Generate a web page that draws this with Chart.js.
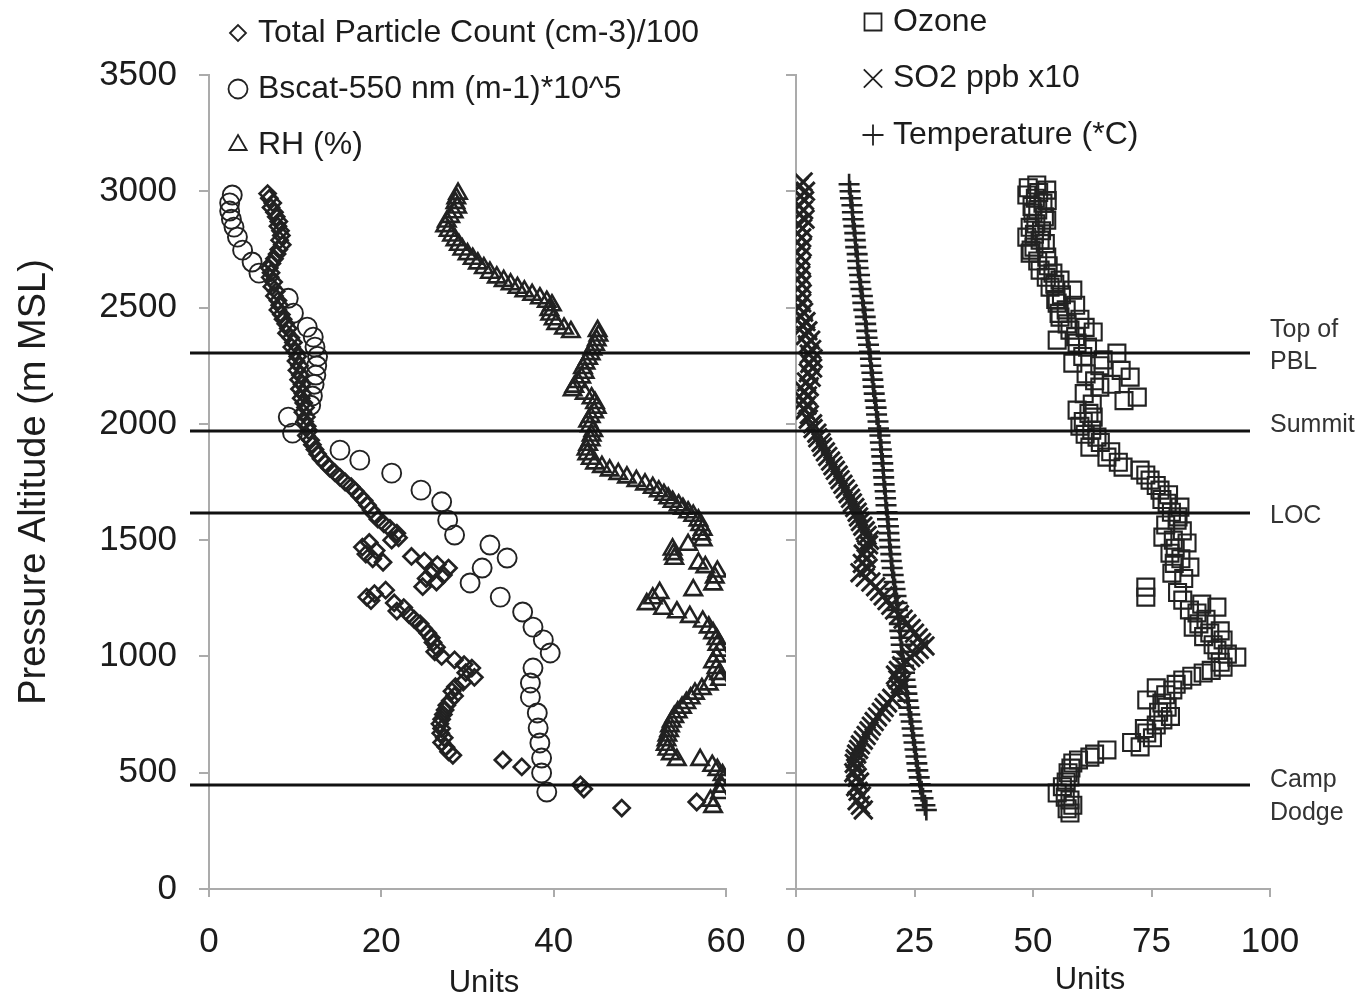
<!DOCTYPE html>
<html>
<head>
<meta charset="utf-8">
<title>Vertical profile</title>
<script src="https://cdn.jsdelivr.net/npm/chart.js@4.4.1/dist/chart.umd.min.js"></script>
<style>
  html, body { margin: 0; padding: 0; background: #fff; }
  #wrap { position: relative; width: 1359px; height: 1005px; overflow: hidden; }
  #leftChart { position: absolute; left: 0; top: 0; }
  #rightChart { position: absolute; left: 760px; top: 0; }
</style>
</head>
<body>
<div id="wrap">
  <canvas id="leftChart" width="760" height="1005"></canvas>
  <canvas id="rightChart" width="599" height="1005"></canvas>
</div>
<script>
/* ---- Tick labels ---- */
var altitudeTicks = [0, 500, 1000, 1500, 2000, 2500, 3000, 3500];
var leftUnitTicks = [0, 20, 40, 60];
var rightUnitTicks = [0, 25, 50, 75, 100];

/* ---- Reference levels (m MSL) ---- */
var levelAltitudes = [2305, 1970, 1615, 448];
var levelNames = [['Top of', 'PBL'], ['Summit'], ['LOC'], ['Camp', 'Dodge']];

/* ---- Series, pairs of [units, altitude] ---- */
var particleCount = [
  [6.8,2990],[7.0,2970],[7.4,2950],[7.2,2930],[7.6,2910],[7.8,2890],[8.1,2870],[8.0,2850],[8.3,2830],[8.4,2810],
  [8.2,2790],[8.5,2770],[8.1,2750],[7.9,2730],[7.6,2710],[7.3,2690],[7.0,2670],[7.2,2650],[7.1,2630],[7.5,2610],
  [7.3,2590],[7.8,2570],[7.6,2550],[8.0,2530],[8.2,2510],[8.0,2490],[8.4,2470],[8.6,2450],[8.9,2430],[9.2,2410],
  [9.0,2390],[9.5,2370],[9.8,2350],[9.6,2330],[10.0,2310],[10.3,2290],[10.1,2270],[10.5,2250],[10.2,2230],[10.6,2210],
  [10.4,2190],[10.8,2170],[10.5,2150],[10.9,2130],[10.7,2110],[11.0,2090],[11.2,2070],[10.9,2050],[11.3,2030],[11.1,2010],
  [11.4,1990],[11.6,1970],[11.3,1950],[11.8,1930],[12.0,1910],[12.3,1890],[12.6,1870],[13.0,1850],[13.5,1830],[14.0,1810],
  [14.6,1790],[15.2,1770],[15.8,1750],[16.5,1730],[17.0,1710],[17.5,1690],[18.0,1670],[18.4,1650],[18.8,1630],[19.2,1610],
  [19.6,1590],[20.3,1570],[21.0,1550],[21.8,1530],[22.0,1510],[21.2,1500],[18.6,1490],[17.8,1470],[19.4,1455],[18.2,1440],
  [19.0,1420],[20.2,1405],[23.5,1430],[25.0,1410],[26.5,1395],[27.8,1380],[26.0,1365],[27.2,1350],[25.2,1335],[26.4,1320],
  [24.8,1300],[20.5,1285],[19.2,1270],[18.3,1255],[18.8,1240],[21.5,1230],[22.6,1210],[21.8,1195],[23.2,1180],[23.8,1160],
  [24.5,1140],[24.9,1120],[25.4,1100],[25.8,1080],[26.0,1060],[26.4,1040],[26.2,1020],[27.0,1000],[28.5,985],[29.6,965],
  [30.5,950],[29.8,930],[30.8,910],[29.5,890],[28.6,870],[28.2,850],[28.5,830],[28.0,810],[27.6,790],[27.4,770],
  [27.2,750],[27.0,730],[26.8,710],[27.0,690],[26.9,670],[27.3,650],[27.0,630],[27.5,610],[27.8,590],[28.3,575],
  [34.1,555],[36.3,525],[43.1,448],[43.5,430],[56.6,374],[47.9,348]
];

var bscat = [
  [2.7,2984],[2.4,2950],[2.4,2915],[2.6,2880],[2.9,2846],[3.3,2803],[3.9,2747],[5.0,2696],[5.8,2648],[9.2,2540],
  [9.8,2476],[11.4,2416],[12.1,2373],[12.3,2330],[12.6,2290],[12.5,2250],[12.4,2210],[12.2,2170],[12.0,2120],[11.8,2080],
  [9.2,2029],[9.7,1960],[15.2,1887],[17.5,1844],[21.2,1788],[24.6,1715],[27.0,1665],[27.7,1586],[28.5,1522],[32.6,1479],
  [34.6,1423],[31.7,1380],[30.3,1316],[33.8,1255],[36.4,1191],[37.6,1126],[38.8,1071],[39.6,1015],[37.6,950],[37.3,886],
  [37.3,825],[38.1,757],[38.2,692],[38.4,628],[38.6,563],[38.6,499],[39.2,417]
];

var relHumidity = [
  [28.9,2990],[28.7,2970],[28.6,2950],[28.8,2930],[28.4,2910],[28.0,2890],[27.6,2870],[27.4,2850],[27.8,2830],[28.2,2810],
  [28.6,2790],[29.0,2770],[29.4,2750],[30.0,2730],[30.6,2710],[31.2,2690],[31.9,2670],[32.6,2650],[33.4,2630],[34.2,2615],
  [35.0,2600],[35.8,2585],[36.6,2570],[37.5,2555],[38.4,2540],[39.2,2525],[39.8,2510],[39.5,2490],[39.6,2470],[40.0,2450],
  [40.3,2430],[41.2,2410],[42.0,2395],
  [45.1,2400],[45.2,2380],[45.0,2360],[44.8,2340],[44.5,2320],[44.3,2300],[44.0,2280],[43.7,2260],[43.4,2240],[43.6,2220],
  [43.2,2200],[42.8,2180],[42.4,2160],[42.2,2145],[43.6,2130],[44.4,2110],[44.8,2090],[45.0,2070],[44.7,2050],[44.3,2030],
  [44.0,2010],[44.2,1990],[44.6,1970],[44.4,1950],[44.3,1930],[44.0,1910],[43.8,1890],[43.9,1870],[44.3,1850],[44.8,1830],
  [45.6,1815],[46.5,1800],[47.5,1785],[48.5,1770],[49.6,1755],[50.6,1740],[51.5,1725],[52.2,1710],[52.8,1695],[53.3,1680],
  [53.8,1665],[54.5,1650],[55.0,1635],[55.6,1620],[56.2,1605],[56.8,1585],[57.0,1565],[57.3,1545],[57.1,1525],[57.3,1500],
  [55.6,1480],[53.8,1460],[53.9,1440],[54.0,1420],[56.8,1400],[57.6,1384],[59.0,1365],[58.7,1340],[58.5,1310],[56.2,1285],
  [52.3,1273],[51.5,1250],[50.8,1225],[52.7,1205],[54.3,1190],[55.8,1170],[57.3,1150],[58.0,1125],[58.5,1100],[58.9,1075],
  [59.0,1050],[59.3,1025],[58.9,1000],[58.5,975],[58.9,950],[59.2,925],[59.3,900],[58.0,880],[57.2,860],[56.4,840],
  [55.9,820],[55.4,800],[54.9,780],[54.4,760],[54.0,740],[53.7,720],[53.5,700],[53.4,680],[53.2,660],[53.1,640],
  [53.0,620],[53.2,600],[53.6,580],[54.3,555],[57.0,555],[58.4,530],[59.0,512],[59.6,490],[59.7,469],[59.5,440],
  [59.3,413],[58.2,380],[58.5,353]
];

var ozone = [
  [50.8,3027],[49.0,3015],[52.9,3005],[51.2,2995],[48.7,2984],[50.5,2970],[53.0,2960],[52.1,2949],[49.8,2935],[51.0,2920],
  [50.0,2906],[52.4,2890],[52.9,2876],[50.6,2860],[49.4,2845],[51.8,2830],[50.3,2815],[48.7,2803],[51.5,2790],[52.6,2775],
  [50.2,2760],[49.6,2747],[49.4,2734],[52.9,2717],[51.0,2700],[53.2,2680],[51.5,2661],[54.2,2648],[52.8,2630],[55.7,2618],
  [54.6,2600],[53.6,2588],[58.4,2575],[56.0,2555],[54.8,2535],[55.1,2519],[59.0,2510],[57.0,2490],[55.5,2475],[55.7,2459],
  [59.9,2450],[57.2,2430],[61.0,2415],[57.8,2403],[62.7,2395],[59.0,2375],[55.1,2360],[59.3,2347],[61.5,2330],[67.7,2304],
  [60.5,2290],[64.8,2275],[58.4,2261],[64.1,2250],[68.6,2230],[61.2,2215],[70.5,2201],[63.0,2185],[66.5,2170],[64.1,2158],
  [60.8,2130],[72.0,2115],[69.2,2100],[62.5,2085],[59.3,2059],[61.8,2045],[62.7,2029],[60.6,2010],[59.9,1990],[62.4,1973],
  [61.0,1955],[63.5,1943],[64.2,1920],[62.0,1900],[66.4,1880],[65.6,1857],[68.0,1835],[69.0,1814],[72.6,1801],[73.8,1780],
  [74.7,1758],[76.0,1735],[76.8,1715],[78.6,1695],[77.2,1675],[78.3,1659],[81.0,1642],[79.2,1620],[80.6,1600],[80.4,1586],
  [78.0,1565],[81.5,1540],[77.4,1513],[79.6,1500],[82.5,1488],[80.0,1465],[78.9,1444],[81.2,1420],[79.8,1400],[83.1,1384],
  [79.3,1358],[81.8,1335],[73.8,1298],[80.5,1275],[73.8,1255],[81.6,1242],[85.6,1225],[88.8,1212],[83.0,1200],[84.6,1187],
  [86.5,1160],[85.0,1140],[83.8,1126],[89.5,1110],[87.3,1101],[86.0,1085],[90.1,1071],[88.0,1050],[88.8,1027],[91.0,1010],
  [93.0,997],[89.5,975],[90.1,954],[87.6,940],[85.9,929],[83.5,915],[81.6,899],[80.2,880],[76.0,865],[79.5,856],
  [78.0,835],[74.0,813],[77.2,800],[78.3,782],[76.5,760],[79.0,742],[77.4,727],[76.0,705],[73.5,690],[74.0,671],
  [75.2,650],[70.8,630],[72.6,611],[65.6,598],[63.0,580],[62.0,567],[59.6,555],[58.4,542],[58.0,520],[57.4,500],
  [57.8,482],[57.0,460],[56.2,440],[55.1,413],[56.8,395],[57.8,383],[58.4,360],[57.2,345],[57.8,327]
];

var so2 = [
  [1.5,3040],[0.6,3020],[2.0,3000],[0.9,2980],[1.8,2960],[0.5,2940],[1.6,2920],[0.7,2900],[1.9,2880],[0.4,2860],
  [1.4,2840],[0.3,2820],[1.2,2800],[0.2,2780],[1.3,2760],[0.0,2740],[1.0,2720],[0.1,2700],[1.1,2680],[0.2,2660],
  [1.0,2640],[0.3,2620],[1.2,2600],[0.4,2580],[1.3,2560],[0.5,2540],[1.2,2520],[0.6,2500],[1.6,2480],[1.0,2460],
  [2.1,2440],[1.5,2420],[2.5,2400],[2.0,2380],[3.1,2360],[2.4,2340],[3.3,2320],[2.8,2300],[3.6,2280],[2.9,2260],
  [3.5,2240],[2.6,2220],[3.2,2200],[2.2,2180],[2.8,2160],[1.8,2140],[2.4,2120],[1.6,2100],[2.3,2080],[1.9,2060],
  [2.8,2040],[2.6,2020],[3.5,2000],[3.6,1980],[4.4,1960],[4.6,1940],[5.3,1920],[5.6,1900],[6.2,1880],[6.7,1860],
  [7.3,1840],[7.8,1820],[8.3,1800],[8.9,1780],[9.3,1760],[9.9,1740],[10.4,1720],[11.0,1700],[11.5,1680],[11.9,1660],
  [12.4,1640],[12.9,1620],[13.2,1600],[13.6,1580],[14.1,1560],[14.6,1540],[15.0,1520],[15.5,1500],[15.3,1480],[14.8,1460],
  [14.2,1440],[14.8,1420],[14.0,1400],[15.2,1380],[13.5,1360],[14.6,1340],[15.8,1320],[16.8,1300],[17.6,1280],[18.4,1260],
  [19.2,1240],[20.0,1220],[20.8,1200],[21.8,1180],[22.6,1160],[23.4,1140],[24.3,1120],[25.0,1100],[25.8,1080],[26.5,1060],
  [27.2,1045],[26.0,1030],[25.0,1010],[24.2,995],[23.2,980],[22.3,960],[21.6,940],[21.0,920],[21.5,900],[22.0,880],
  [21.8,860],[21.2,840],[20.2,820],[19.3,800],[18.6,780],[18.0,760],[17.2,740],[16.5,720],[15.9,700],[15.4,680],
  [14.8,660],[14.2,640],[13.6,620],[13.2,600],[12.8,580],[12.5,560],[12.3,540],[12.6,520],[12.2,500],[12.9,480],
  [13.4,460],[12.6,440],[13.1,420],[13.8,400],[12.9,380],[13.6,360],[14.2,340]
];

var temperature = [
  [11.2,3030],[11.4,3000],[11.5,2970],[11.8,2940],[11.9,2910],[12.0,2880],[12.2,2850],[12.4,2820],[12.5,2790],[12.6,2760],
  [12.9,2730],[13.0,2700],[13.1,2670],[13.4,2640],[13.5,2610],[13.7,2580],[14.0,2550],[14.1,2520],[14.3,2490],[14.6,2460],
  [14.7,2430],[14.9,2400],[15.0,2370],[15.3,2340],[15.5,2310],[15.7,2280],[15.8,2250],[16.0,2220],[16.2,2190],[16.3,2160],
  [16.5,2130],[16.7,2100],[16.9,2070],[17.0,2040],[17.3,2010],[17.4,1980],[17.7,1950],[17.8,1920],[18.0,1890],[18.1,1860],
  [18.3,1830],[18.4,1800],[18.5,1770],[18.6,1740],[18.8,1710],[18.9,1680],[19.0,1650],[19.2,1620],[19.3,1590],[19.5,1560],
  [19.6,1530],[19.7,1500],[19.8,1470],[20.0,1440],[20.1,1410],[20.3,1380],[20.5,1350],[20.7,1320],[20.9,1290],[21.1,1260],
  [21.3,1230],[21.4,1200],[21.6,1170],[21.8,1140],[21.9,1110],[22.1,1080],[22.2,1050],[22.4,1020],[22.6,990],[22.7,960],
  [22.9,930],[23.0,900],[23.2,870],[23.4,840],[23.6,810],[23.8,780],[24.0,750],[24.3,720],[24.5,690],[24.7,660],
  [24.9,630],[25.1,600],[25.3,570],[25.5,540],[25.7,510],[26.0,480],[26.2,450],[26.5,420],[26.8,390],[27.2,360],
  [27.5,340]
];

/* ---- Styling ---- */
var FONT = "'Liberation Sans', Arial, sans-serif";
var INK = '#1c1c1c';
var AXIS_GREY = '#ababab';
var MARK = '#222';
var levelLabelDy = [[-23, 9], [-6], [3], [-5, 28]];

function toPoints(pairs) {
  return pairs.map(function (p) { return { x: p[0], y: p[1] }; });
}

function series(label, pairs, style, radius, width) {
  return {
    label: label,
    data: toPoints(pairs),
    pointStyle: style,
    pointRadius: radius,
    pointBorderWidth: width,
    pointBorderColor: MARK,
    pointBackgroundColor: 'rgba(255,255,255,0)',
    showLine: false
  };
}

function fixedTicks(values) {
  return function (scale) {
    scale.ticks = values.map(function (v) { return { value: v }; });
  };
}

/* --- Plugins --- */
var levelPlugin = {
  id: 'levels',
  afterDatasetsDraw: function (chart, args, opts) {
    var ctx = chart.ctx;
    var yScale = chart.scales.y;
    ctx.save();
    ctx.strokeStyle = '#111';
    ctx.lineWidth = 3;
    for (var i = 0; i < levelAltitudes.length; i++) {
      var py = Math.round(yScale.getPixelForValue(levelAltitudes[i]));
      ctx.beginPath();
      ctx.moveTo(opts.from, py);
      ctx.lineTo(opts.to, py);
      ctx.stroke();
      if (opts.labelX !== undefined) {
        ctx.fillStyle = '#333';
        ctx.font = '25px ' + FONT;
        ctx.textAlign = 'left';
        ctx.textBaseline = 'middle';
        for (var j = 0; j < levelNames[i].length; j++) {
          ctx.fillText(levelNames[i][j], opts.labelX, py + levelLabelDy[i][j]);
        }
      }
    }
    ctx.restore();
  }
};

var legendPlugin = {
  id: 'stackLegend',
  afterDraw: function (chart, args, opts) {
    var ctx = chart.ctx;
    ctx.save();
    chart.data.datasets.forEach(function (ds, i) {
      var y = opts.top + i * opts.gap;
      ctx.strokeStyle = MARK;
      ctx.fillStyle = 'rgba(255,255,255,0)';
      ctx.lineWidth = 1.8;
      Chart.helpers.drawPoint(ctx, {
        pointStyle: ds.pointStyle, radius: ds.pointRadius, borderWidth: 1.8, rotation: 0
      }, opts.symbolX, y);
      ctx.fillStyle = INK;
      ctx.font = '32px ' + FONT;
      ctx.textAlign = 'left';
      ctx.textBaseline = 'middle';
      ctx.fillText(ds.label, opts.textX, y);
    });
    // axis title under the ticks
    ctx.font = '31px ' + FONT;
    ctx.textAlign = 'center';
    ctx.fillText('Units', opts.unitsX, opts.unitsY);
    ctx.restore();
  }
};

function plainLabel(v) { return String(v); }

function unitAxis(max, ticks) {
  return {
    type: 'linear', min: 0, max: max,
    afterBuildTicks: fixedTicks(ticks),
    afterFit: function (s) { s.height = 116; s.paddingLeft = 0; s.paddingRight = 0; },
    grid: { drawOnChartArea: false, color: AXIS_GREY, tickLength: 8, lineWidth: 2 },
    border: { color: AXIS_GREY, width: 2 },
    ticks: { font: { family: FONT, size: 35 }, color: INK, padding: 24, maxRotation: 0, autoSkip: false, callback: plainLabel }
  };
}

function altitudeAxis(width, showLabels) {
  return {
    type: 'linear', min: 0, max: 3500,
    afterBuildTicks: fixedTicks(altitudeTicks),
    afterFit: function (s) { s.width = width; s.paddingTop = 0; s.paddingBottom = 0; },
    grid: { drawOnChartArea: false, color: AXIS_GREY, tickLength: 10, lineWidth: 2 },
    border: { color: AXIS_GREY, width: 2 },
    ticks: { display: showLabels, font: { family: FONT, size: 35 }, color: INK, padding: 22, autoSkip: false, callback: plainLabel },
    title: {
      display: showLabels, text: 'Pressure Altitude (m MSL)',
      font: { family: FONT, size: 38 }, color: INK, padding: { top: 12, bottom: 0 }
    }
  };
}

var baseOptions = function (xAxis, yAxis, padRight, pluginOpts) {
  return {
    responsive: false,
    animation: false,
    events: [],
    layout: { padding: { top: 75, right: padRight, left: 0, bottom: 0 } },
    scales: { x: xAxis, y: yAxis },
    plugins: {
      legend: { display: false },
      tooltip: { enabled: false },
      levels: pluginOpts.levels,
      stackLegend: pluginOpts.legend
    }
  };
};

new Chart(document.getElementById('leftChart'), {
  type: 'scatter',
  data: {
    datasets: [
      series('Total Particle Count (cm-3)/100', particleCount, 'rectRot', 8, 2.7),
      series('Bscat-550 nm (m-1)*10^5', bscat, 'circle', 9.5, 1.9),
      series('RH (%)', relHumidity, 'triangle', 10, 2.6)
    ]
  },
  options: baseOptions(unitAxis(60, leftUnitTicks), altitudeAxis(209, true), 34, {
    levels: { from: 190, to: 760 },
    legend: { symbolX: 238, textX: 258, top: 33, gap: 56, unitsX: 484, unitsY: 983 }
  }),
  plugins: [levelPlugin, legendPlugin]
});

new Chart(document.getElementById('rightChart'), {
  type: 'scatter',
  data: {
    datasets: [
      series('Ozone', ozone, 'rect', 12, 2.1),
      series('SO2 ppb x10', so2, 'crossRot', 13, 3),
      series('Temperature (*C)', temperature, 'cross', 10.5, 2.6)
    ]
  },
  options: baseOptions(unitAxis(100, rightUnitTicks), altitudeAxis(36, false), 89, {
    levels: { from: 0, to: 490, labelX: 510 },
    legend: { symbolX: 113, textX: 133, top: 22, gap: 56.5, unitsX: 330, unitsY: 980 }
  }),
  plugins: [levelPlugin, legendPlugin]
});
</script>
</body>
</html>
